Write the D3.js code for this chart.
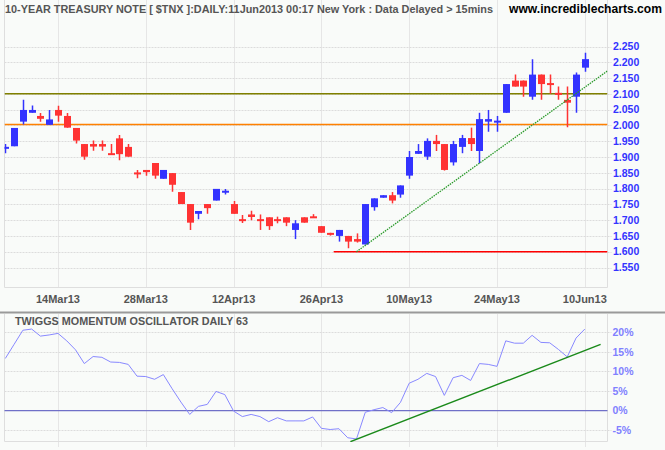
<!DOCTYPE html>
<html><head><meta charset="utf-8">
<script src="https://cdn.jsdelivr.net/npm/d3@7"></script>
<style>html,body{margin:0;padding:0;background:#f9fbf9;} svg{display:block}</style>
</head><body><svg id="c" width="665" height="450"></svg>
<script>
const dates = ["06Mar","07Mar","08Mar","11Mar","12Mar","13Mar","14Mar","15Mar","18Mar","19Mar","20Mar","21Mar","22Mar","25Mar","26Mar","27Mar","28Mar",
"01Apr","02Apr","03Apr","04Apr","05Apr","08Apr","09Apr","10Apr","11Apr","12Apr","15Apr","16Apr","17Apr","18Apr","19Apr","22Apr","23Apr","24Apr","25Apr","26Apr","29Apr","30Apr",
"01May","02May","03May","06May","07May","08May","09May","10May","13May","14May","15May","16May","17May","20May","21May","22May","23May","24May","28May","29May","30May","31May",
"03Jun","04Jun","05Jun","06Jun","07Jun","10Jun"];
const open  = [1.928,1.934,2.012,2.040,2.030,2.002,2.049,2.030,1.992,1.941,1.941,1.941,1.910,1.959,1.932,1.849,1.859,1.881,1.831,1.849,1.789,1.751,1.720,1.751,1.762,1.789,1.751,1.701,1.718,1.701,1.709,1.701,1.709,1.669,1.709,1.711,1.681,1.658,1.650,1.650,1.640,1.623,1.741,1.771,1.779,1.781,1.841,1.910,1.901,1.951,1.941,1.883,1.932,1.960,1.919,2.012,2.011,2.040,2.142,2.142,2.091,2.161,2.132,2.101,2.081,2.091,2.183];
const high  = [1.941,1.992,2.081,2.063,2.039,2.049,2.062,2.039,1.992,1.941,1.952,1.952,1.941,1.970,1.941,1.859,1.859,1.881,1.859,1.849,1.789,1.751,1.729,1.751,1.799,1.799,1.761,1.716,1.730,1.718,1.709,1.711,1.709,1.700,1.709,1.719,1.681,1.660,1.669,1.650,1.658,1.751,1.769,1.779,1.789,1.810,1.919,1.941,1.959,1.970,1.941,1.951,1.970,1.993,2.040,2.049,2.030,2.131,2.161,2.142,2.210,2.161,2.161,2.123,2.123,2.168,2.230];
const low   = [1.912,1.934,2.003,2.040,2.012,2.002,2.012,1.993,1.943,1.891,1.920,1.920,1.908,1.890,1.901,1.833,1.841,1.831,1.831,1.790,1.751,1.669,1.703,1.720,1.762,1.781,1.720,1.691,1.700,1.669,1.669,1.690,1.681,1.640,1.692,1.707,1.660,1.651,1.632,1.611,1.629,1.623,1.730,1.771,1.753,1.771,1.831,1.910,1.891,1.919,1.857,1.873,1.912,1.919,1.880,1.980,1.980,2.040,2.123,2.091,2.081,2.081,2.100,2.081,1.994,2.040,2.170];
const close = [1.930,1.992,2.049,2.049,2.021,2.019,2.031,1.993,1.952,1.901,1.933,1.933,1.908,1.909,1.901,1.847,1.852,1.841,1.859,1.812,1.751,1.692,1.729,1.738,1.799,1.791,1.720,1.699,1.710,1.699,1.681,1.699,1.692,1.690,1.692,1.707,1.660,1.655,1.669,1.632,1.632,1.751,1.769,1.779,1.762,1.810,1.900,1.919,1.951,1.941,1.859,1.941,1.960,1.941,2.020,2.020,2.013,2.131,2.123,2.123,2.161,2.131,2.130,2.099,2.072,2.161,2.210];
const osc = [13.3,16.9,20.5,20.8,19.0,19.3,19.7,17.8,15.5,12.0,13.8,13.6,12.4,12.3,11.8,8.8,8.7,8.0,9.2,5.6,2.2,-0.95,1.1,1.6,4.9,4.1,-0.1,-1.5,-0.95,-1.5,-2.8,-1.8,-2.6,-2.6,-2.6,-1.6,-4.5,-4.8,-4.6,-6.9,-7.2,-0.4,0.25,0.8,-0.5,2.1,7.0,8.0,9.5,8.7,3.9,8.4,9.0,7.7,12.0,11.8,11.3,17.8,17.2,17.2,19.2,17.4,17.3,15.6,13.7,18.5,20.8];
const priceTicks = [1.55,1.60,1.65,1.70,1.75,1.80,1.85,1.90,1.95,2.00,2.05,2.10,2.15,2.20,2.25];
const oscTicks = [-5,0,5,10,15,20];
const dateTickDates = ["14Mar","28Mar","12Apr","26Apr","10May","24May","10Jun"];
const dateTickLabels = ["14Mar13","28Mar13","12Apr13","26Apr13","10May13","24May13","10Jun13"];
const resistanceLevel = 2.10;
const midLevel = 2.003;
const supportLevel = 1.60, supportFromIndex = 37.4;
const priceTrend = [[40.0,1.600],[68.6,2.173]];
const oscTrend = [[39.3,-7.9],[67.8,16.9]];
const titleText = "10-YEAR TREASURY NOTE [ $TNX ]:DAILY:11Jun2013 00:17 New York : Data Delayed > 15mins";
const siteText = "www.incrediblecharts.com";
const oscTitle = "TWIGGS MOMENTUM OSCILLATOR DAILY 63";

const svg = d3.select("#c");
const W = 665;
const L = 4.5, R = 607.5;
const top1 = 0, bot1 = 287.5;
const top2 = 314, bot2 = 441.5;
const font = "'Liberation Sans', Arial, sans-serif";

svg.append("rect").attr("width",665).attr("height",450).attr("fill","#f9fbf9");

const x = d3.scaleLinear().domain([0, dates.length-1]).range([5.3, 584.8]);
const y = d3.scaleLinear().domain([1.55, 2.25]).range([267.5, 46.5]);
const yo = d3.scaleLinear().domain([-5, 20]).range([430.3, 332.2]);
const idx = d => dates.indexOf(d);

// clip paths
const defs = svg.append("defs");
defs.append("clipPath").attr("id","cp1").append("rect").attr("x",L).attr("y",top1).attr("width",R-L).attr("height",bot1-top1);
defs.append("clipPath").attr("id","cp2").append("rect").attr("x",L).attr("y",top2).attr("width",R-L).attr("height",bot2-top2+0.5);

// ---------- TOP PANEL ----------
const g1 = svg.append("g");
// vertical grid
g1.selectAll("line.vg").data(dateTickDates).join("line")
  .attr("x1",d=>Math.round(x(idx(d)))+0.5).attr("x2",d=>Math.round(x(idx(d)))+0.5)
  .attr("y1",top1).attr("y2",bot1).attr("stroke","#e6e6e6").attr("stroke-width",1);
// horizontal grid (dashed)
g1.selectAll("line.hg").data(priceTicks).join("line")
  .attr("x1",L).attr("x2",R+4).attr("y1",d=>Math.round(y(d))+0.5).attr("y2",d=>Math.round(y(d))+0.5)
  .attr("stroke","#dcdcdc").attr("stroke-dasharray","2,1").attr("stroke-width",1);
// borders
g1.append("line").attr("x1",L).attr("x2",L).attr("y1",top1).attr("y2",bot1).attr("stroke","#dedede");
g1.append("line").attr("x1",R).attr("x2",R).attr("y1",top1).attr("y2",bot1).attr("stroke","#dedede");
g1.append("line").attr("x1",L).attr("x2",R).attr("y1",bot1).attr("y2",bot1).attr("stroke","#dedede");

// price labels
g1.selectAll("text.pl").data(priceTicks).join("text")
  .attr("x",613).attr("y",d=>y(d)).attr("dy","0.36em")
  .attr("font-family",font).attr("font-weight","bold").attr("font-size",10.5)
  .attr("fill","#3333ff").text(d=>d3.format(".3f")(d));

// date labels
g1.selectAll("text.dl").data(dateTickDates).join("text")
  .attr("x",d=>x(idx(d))).attr("y",303).attr("text-anchor","middle")
  .attr("font-family",font).attr("font-weight","bold").attr("font-size",11)
  .attr("fill","#555").text((d,i)=>dateTickLabels[i]);

const p1 = g1.append("g").attr("clip-path","url(#cp1)");
// horizontal level lines
p1.append("line").attr("x1",L).attr("x2",R).attr("y1",y(resistanceLevel)).attr("y2",y(resistanceLevel)).attr("stroke","#808000").attr("stroke-width",1.5);
p1.append("line").attr("x1",L).attr("x2",R).attr("y1",y(midLevel)).attr("y2",y(midLevel)).attr("stroke","#ff8000").attr("stroke-width",1.5);
p1.append("line").attr("x1",x(supportFromIndex)).attr("x2",R).attr("y1",y(supportLevel)).attr("y2",y(supportLevel)).attr("stroke","#ff0000").attr("stroke-width",1.5);

// candles
const candles = d3.range(dates.length).map(i=>({i, o:open[i], h:high[i], l:low[i], c:close[i]}));
const cw = 7;
const cg = p1.selectAll("g.cd").data(candles).join("g");
cg.append("line")
  .attr("x1",d=>Math.round(x(d.i))+0.5).attr("x2",d=>Math.round(x(d.i))+0.5)
  .attr("y1",d=>y(d.h)).attr("y2",d=>y(d.l))
  .attr("stroke",d=>d.c>=d.o?"#3333ff":"#ff3333").attr("stroke-width",1.5);
cg.append("rect")
  .attr("x",d=>Math.round(x(d.i))+0.5-cw/2).attr("width",cw)
  .attr("y",d=>{const a=y(Math.max(d.o,d.c)), b=y(Math.min(d.o,d.c)); return (b-a<2)?(a+b)/2-1:a;})
  .attr("height",d=>Math.max(2, y(Math.min(d.o,d.c))-y(Math.max(d.o,d.c))))
  .attr("fill",d=>d.c>=d.o?"#3333ff":"#ff3333");

// trendline
p1.append("path").datum(priceTrend)
  .attr("d", d3.line().x(d=>x(d[0])).y(d=>y(d[1])))
  .attr("fill","none").attr("stroke","#2a9a2a").attr("stroke-width",1.3).attr("stroke-dasharray","1.5,1");

// title
svg.append("text").attr("x",5).attr("y",13)
  .attr("font-family",font).attr("font-weight","bold").attr("font-size",11)
  .attr("fill","#555").attr("textLength",488).attr("lengthAdjust","spacingAndGlyphs").text(titleText);
svg.append("text").attr("x",509).attr("y",13)
  .attr("font-family",font).attr("font-weight","bold").attr("font-size",12)
  .attr("fill","#000").attr("textLength",153).attr("lengthAdjust","spacingAndGlyphs").text(siteText);

// separator
svg.append("line").attr("x1",0).attr("x2",W).attr("y1",312.5).attr("y2",312.5).attr("stroke","#9a9a9a").attr("stroke-width",2);

// ---------- OSC PANEL ----------
const g2 = svg.append("g");
g2.selectAll("line.vg2").data(dateTickDates).join("line")
  .attr("x1",d=>Math.round(x(idx(d)))+0.5).attr("x2",d=>Math.round(x(idx(d)))+0.5)
  .attr("y1",top2).attr("y2",447).attr("stroke","#e6e6e6");
g2.selectAll("line.hg2").data(oscTicks.filter(d=>d!==0)).join("line")
  .attr("x1",L).attr("x2",R+4).attr("y1",d=>Math.round(yo(d))+0.5).attr("y2",d=>Math.round(yo(d))+0.5)
  .attr("stroke","#dcdcdc").attr("stroke-dasharray","2,1");
g2.append("line").attr("x1",L).attr("x2",L).attr("y1",top2).attr("y2",bot2).attr("stroke","#dedede");
g2.append("line").attr("x1",R).attr("x2",R).attr("y1",top2).attr("y2",bot2).attr("stroke","#dedede");
g2.append("line").attr("x1",L).attr("x2",R).attr("y1",bot2).attr("y2",bot2).attr("stroke","#dedede");
g2.append("line").attr("x1",L).attr("x2",R).attr("y1",yo(0)).attr("y2",yo(0)).attr("stroke","#7070c8").attr("stroke-width",1.3);

g2.selectAll("text.ol").data(oscTicks).join("text")
  .attr("x",612.5).attr("y",d=>yo(d)).attr("dy","0.36em")
  .attr("font-family",font).attr("font-weight","bold").attr("font-size",10.5)
  .attr("fill","#8080ff").text(d=>d+"%");

g2.append("text").attr("x",15).attr("y",325)
  .attr("font-family",font).attr("font-weight","bold").attr("font-size",11)
  .attr("fill","#555").attr("textLength",233).attr("lengthAdjust","spacingAndGlyphs").text(oscTitle);

const p2 = g2.append("g").attr("clip-path","url(#cp2)");
p2.append("path").datum(osc)
  .attr("d", d3.line().x((d,i)=>x(i)).y(d=>yo(d)))
  .attr("fill","none").attr("stroke","#8888ff").attr("stroke-width",1);
p2.append("path").datum(oscTrend)
  .attr("d", d3.line().x(d=>x(d[0])).y(d=>yo(d[1])))
  .attr("fill","none").attr("stroke","#1a8a1a").attr("stroke-width",1.4);
</script>
</body></html>
